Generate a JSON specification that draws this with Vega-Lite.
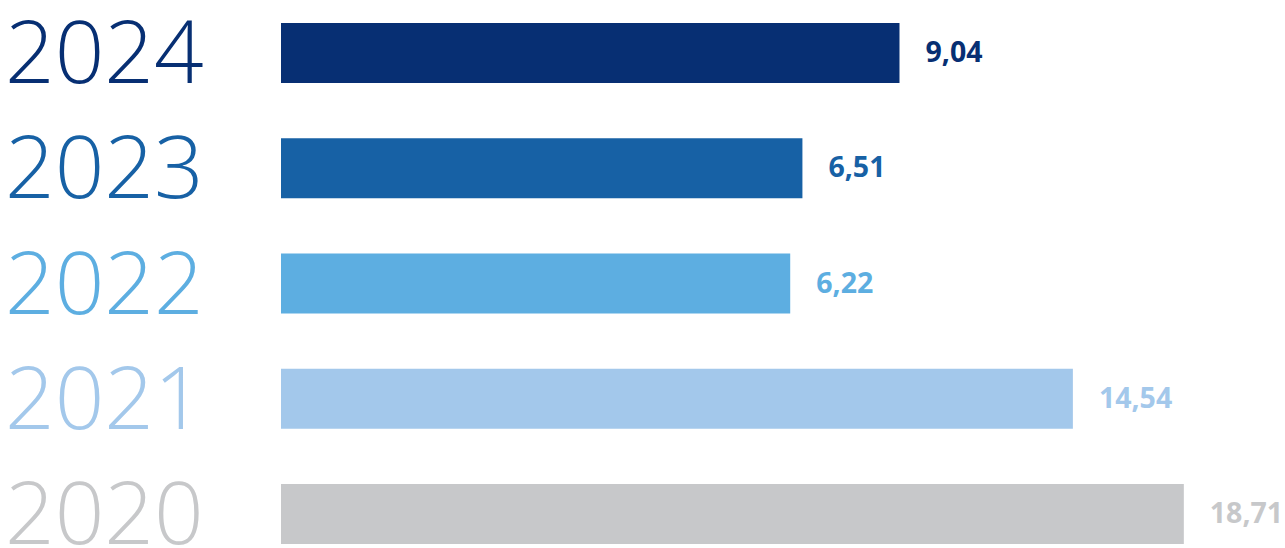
{
  "$schema": "https://vega.github.io/schema/vega-lite/v6.json",
  "autosize": {"type": "none"},
  "padding": {"left": 281, "top": 23, "right": 0, "bottom": 4},
  "width": 1004,
  "height": 521,
  "background": "#ffffff",
  "config": {"view": {"stroke": null}},
  "data": {
    "values": [
      {"year": "2024", "value": 9.04, "label": "9,04"},
      {"year": "2023", "value": 6.51, "label": "6,51"},
      {"year": "2022", "value": 6.22, "label": "6,22"},
      {"year": "2021", "value": 14.54, "label": "14,54"},
      {"year": "2020", "value": 18.71, "label": "18,71"}
    ]
  },
  "encoding": {
    "y": {
      "field": "year",
      "type": "ordinal",
      "sort": "descending",
      "axis": null,
      "scale": {"paddingInner": 0.479, "paddingOuter": 0}
    },
    "color": {
      "field": "year",
      "type": "nominal",
      "legend": null,
      "scale": {
        "domain": ["2024", "2023", "2022", "2021", "2020"],
        "range": ["#072f73", "#1761a5", "#5daee1", "#a3c8eb", "#c7c8ca"]
      }
    }
  },
  "layer": [
    {
      "mark": {"type": "bar", "cornerRadius": 0},
      "encoding": {
        "x": {
          "field": "value",
          "type": "quantitative",
          "axis": null,
          "scale": {"type": "pow", "exponent": 0.52, "domain": [0, 22.95], "range": [0, 1004], "zero": true, "nice": false}
        }
      }
    },
    {
      "mark": {"type": "text", "align": "left", "baseline": "middle", "dx": 26, "dy": 0, "font": "Open Sans", "fontWeight": "bold", "fontSize": 28.5},
      "encoding": {
        "x": {"field": "value", "type": "quantitative"},
        "text": {"field": "label"}
      }
    },
    {
      "mark": {"type": "text", "align": "left", "baseline": "alphabetic", "dx": -276, "dy": 30, "font": "Open Sans", "fontWeight": 300, "fontSize": 87},
      "encoding": {
        "x": {"datum": 0, "type": "quantitative"},
        "text": {"field": "year"}
      }
    }
  ]
}
